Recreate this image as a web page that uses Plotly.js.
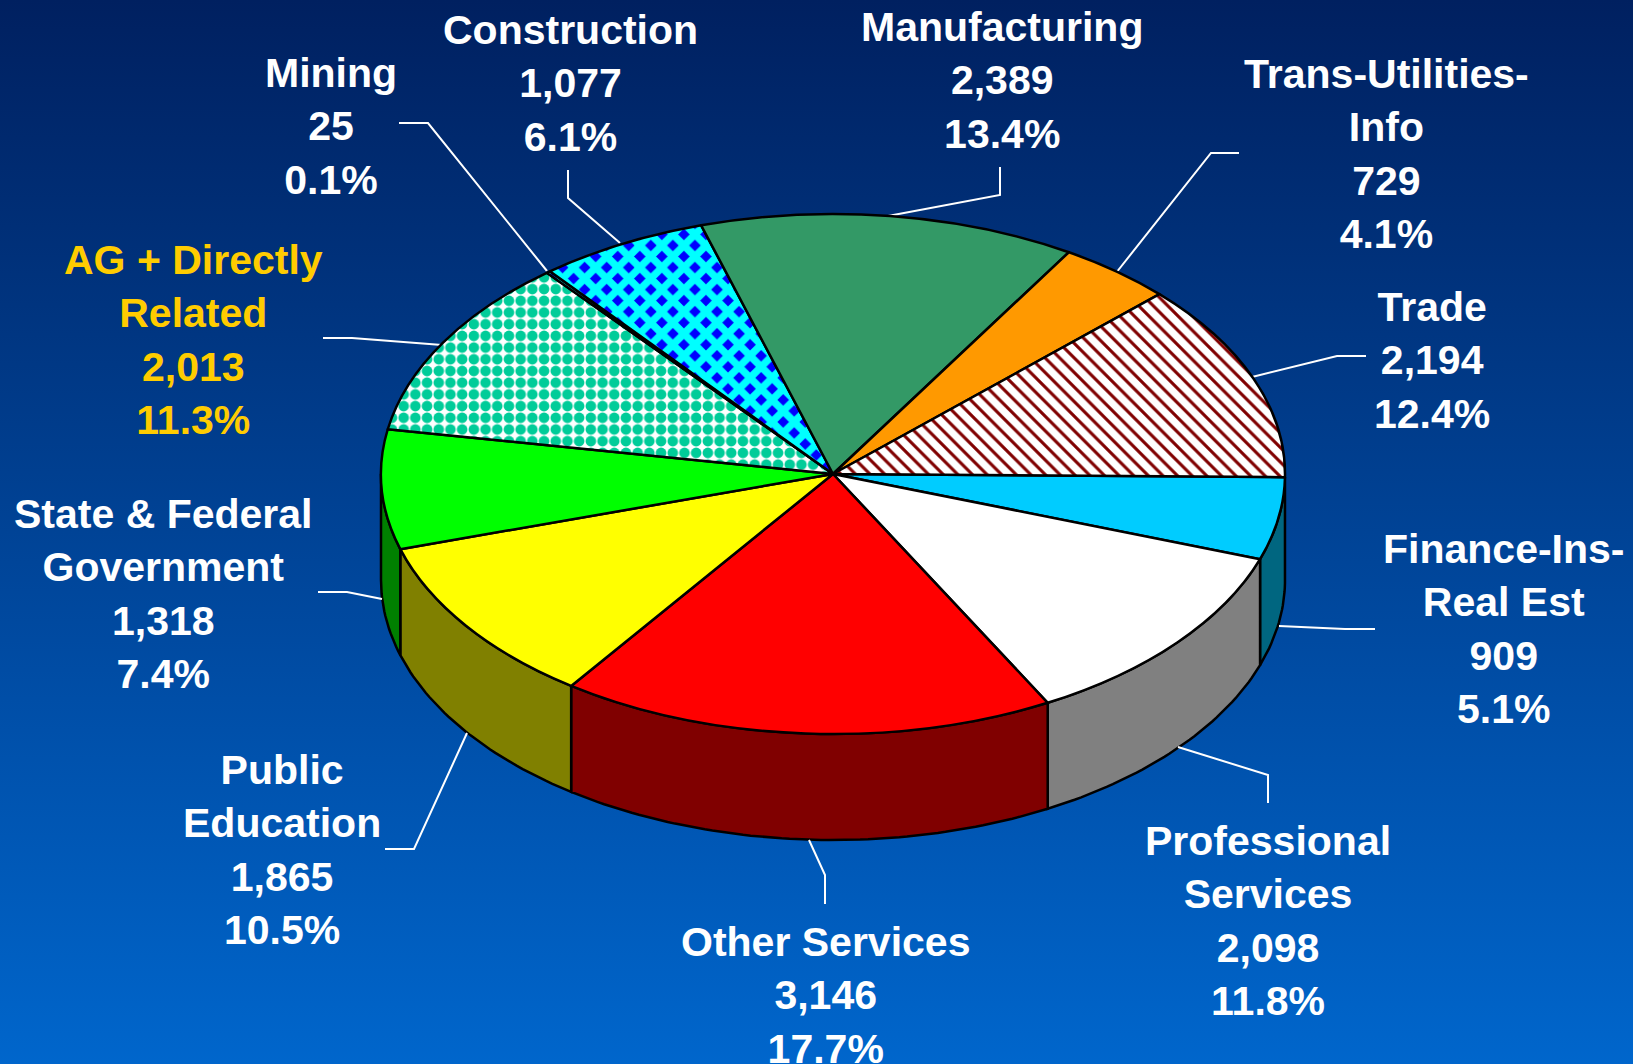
<!DOCTYPE html>
<html>
<head>
<meta charset="utf-8">
<script src="https://cdn.plot.ly/plotly-3.0.1.min.js"></script>
<style>
html,body{margin:0;padding:0;overflow:hidden;}
#chart{width:1633px;height:1064px;background:linear-gradient(to bottom,#002060 0%,#0066CC 100%);}
</style>
</head>
<body>
<div id="chart"></div>
<script>
// ---- data, clockwise from the east edge of the pie
const sectors = ["Finance-Ins-Real Est","Professional Services","Other Services","Public Education",
  "State & Federal Government","AG + Directly Related","Mining","Construction","Manufacturing",
  "Trans-Utilities-Info","Trade"];
const values = [909,2098,3146,1865,1318,2013,25,1077,2389,729,2194];
const percents = ["5.1%","11.8%","17.7%","10.5%","7.4%","11.3%","0.1%","6.1%","13.4%","4.1%","12.4%"];
const valueLabels = ["909","2,098","3,146","1,865","1,318","2,013","25","1,077","2,389","729","2,194"];
const nameLines = ["Finance-Ins-<br>Real Est","Professional<br>Services","Other Services","Public<br>Education",
  "State &amp; Federal<br>Government","AG + Directly<br>Related","Mining","Construction","Manufacturing",
  "Trans-Utilities-<br>Info","Trade"];

// ---- styles
const topColors = ["#00CCFF","#FFFFFF","#FF0000","#FFFF00","#00FF00","#FFFFFF","#00FFFF","#00FFFF","#339966","#FF9900","#FFFFFF"];
const wallColors = ["#006680","#808080","#800000","#808000","#008000"];
const patternShapes = ["","","","","",".","x","x","","","\\"];
const patternFg = ["","","","","","#00CC99","#00FFFF","#00FFFF","","","#800000"];
const patternBg = ["","","","","","#FFFFFF","#0000FF","#0000FF","","","#FFFFFF"];
const patternSize = [0,0,0,0,0,11.7,15.6,15.6,0,0,10.3];
const patternSolid = [0,0,0,0,0,0.65,0.72,0.72,0,0,0.3];

// ---- layout of the drawing, in page pixels
const W = 1633, H = 1064;
const cx = 833, cy = 474, rx = 452, ry = 260, depth = 106, startDeg = 0.7;
const squash = ry / rx;
const labelX = [1503,1268,825,282,163,193,331,570,1002,1386,1432];
const labelY = [524,816,917,745,489,235,48,5,2,49,282];
const labelColor = ["#FFFFFF","#FFFFFF","#FFFFFF","#FFFFFF","#FFFFFF","#FFCC00","#FFFFFF","#FFFFFF","#FFFFFF","#FFFFFF","#FFFFFF"];
const leaderX = [[1375,1345,1279],[1268,1268,1178],[825,825,809],[385,414,467],[318,347,382],[323,352,442],
  [399,428,547],[568,568,620],[1000,1000,888],[1239,1211,1116],[1366,1337,1252]];
const leaderY = [[629,629,626],[803,775,747],[904,875,840],[849,849,733],[592,592,599],[338,338,345],
  [123,123,271],[170,198,243],[167,195,216],[153,153,273],[356,356,377]];

const total = values.reduce((a, b) => a + b, 0);
const traces = [];

// side wall of the front half, from the same values as the top face
let cum = 0;
values.forEach((v, i) => {
  const a0 = startDeg + cum / total * 360;
  cum += v;
  const a1 = Math.min(startDeg + cum / total * 360, 180);
  if (a0 >= 180) return;
  const xs = [], ys = [];
  const steps = Math.max(2, Math.ceil(a1 - a0));
  for (let s = 0; s <= steps; s++) {
    const t = (a0 + (a1 - a0) * s / steps) * Math.PI / 180;
    xs.push(cx + rx * Math.cos(t)); ys.push(cy + ry * Math.sin(t));
  }
  for (let s = steps; s >= 0; s--) {
    const t = (a0 + (a1 - a0) * s / steps) * Math.PI / 180;
    xs.push(cx + rx * Math.cos(t)); ys.push(cy + ry * Math.sin(t) + depth);
  }
  xs.push(xs[0]); ys.push(ys[0]);
  traces.push({type:"scatter", mode:"lines", x:xs, y:ys, fill:"toself", fillcolor:wallColors[i],
    line:{color:"#000000", width:2.5}, hoverinfo:"skip", showlegend:false});
});

// leader lines
leaderX.forEach((lx, i) => traces.push({type:"scatter", mode:"lines", x:lx, y:leaderY[i],
  line:{color:"#FFFFFF", width:2}, hoverinfo:"skip", showlegend:false}));

// top face
traces.push({
  type:"pie", labels:sectors, values:values, sort:false, direction:"clockwise", rotation:90 + startDeg,
  textinfo:"none", showlegend:false,
  domain:{x:[(cx - rx) / W, (cx + rx) / W], y:[1 - (cy + rx) / H, 1 - (cy - rx) / H]},
  marker:{colors:topColors, line:{color:"#000000", width:2.5},
    pattern:{shape:patternShapes, fgcolor:patternFg, bgcolor:patternBg, size:patternSize,
             solidity:patternSolid, fillmode:"replace"}}
});

const annotations = nameLines.map((n, i) => ({
  xref:"x", yref:"y", x:labelX[i], y:labelY[i], xanchor:"center", yanchor:"top", showarrow:false, align:"center",
  text:"<b>" + n + "<br>" + valueLabels[i] + "<br>" + percents[i] + "</b>",
  font:{family:"Liberation Sans, Arial, sans-serif", size:41, color:labelColor[i]}
}));

const layout = {
  width:W, height:H, margin:{l:0,r:0,t:0,b:0}, autosize:false,
  paper_bgcolor:"rgba(0,0,0,0)", plot_bgcolor:"rgba(0,0,0,0)", showlegend:false,
  xaxis:{range:[0,W], visible:false, fixedrange:true},
  yaxis:{range:[H,0], visible:false, fixedrange:true},
  annotations:annotations
};

Plotly.newPlot("chart", traces, layout, {displayModeBar:false, staticPlot:true}).then(gd => {
  // tilt the pie's top face into the ellipse of the 3-D look
  const pl = gd.querySelector(".pielayer");
  pl.setAttribute("transform", `translate(0,${cy * (1 - squash)}) scale(1,${squash})`);
  pl.querySelectorAll("path").forEach(p => p.style.setProperty("vector-effect","non-scaling-stroke"));
  gd.querySelectorAll("defs pattern").forEach(p => p.setAttribute("patternTransform", `scale(1,${1 / squash})`));
});
</script>
</body>
</html>
